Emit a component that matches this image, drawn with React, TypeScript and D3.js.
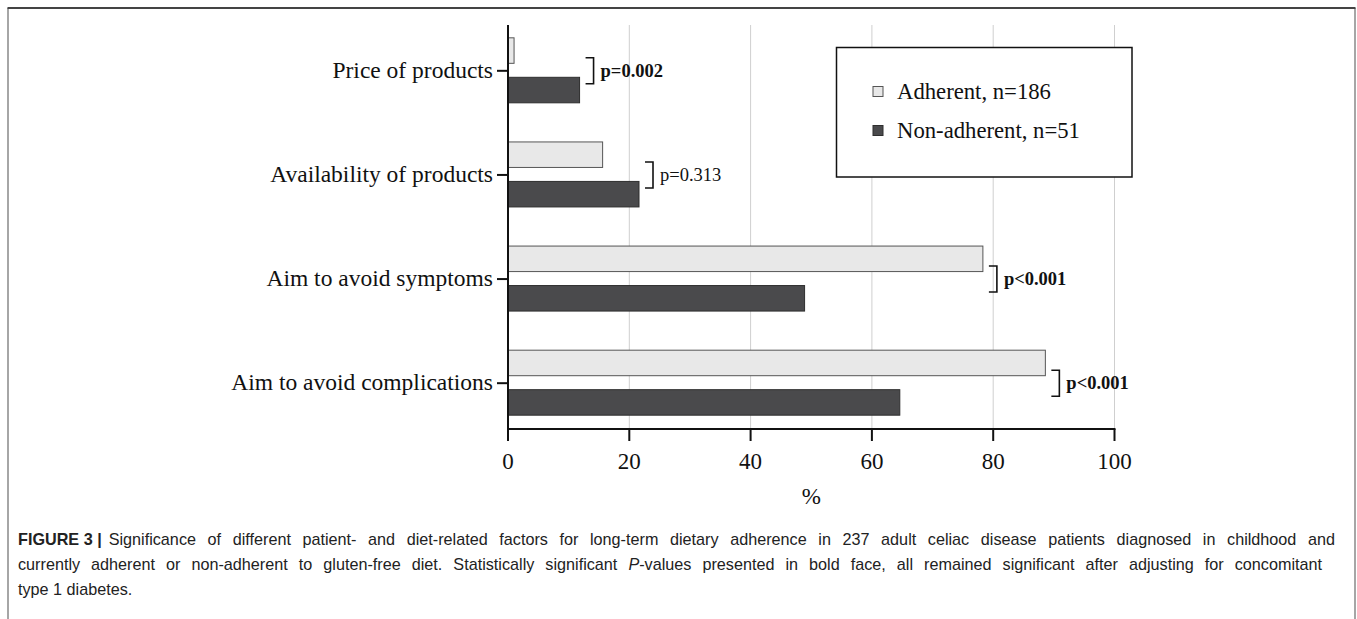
import React, { useEffect, useLayoutEffect, useRef } from "react";
import * as d3 from "d3";

const categories = [
  "Price of products",
  "Availability of products",
  "Aim to avoid symptoms",
  "Aim to avoid complications",
];
const adherent = [1.0, 15.6, 78.3, 88.6];
const nonAdherent = [11.8, 21.6, 48.9, 64.6];
const pValues = ["p=0.002", "p=0.313", "p<0.001", "p<0.001"];
const significant = [true, false, true, true];
const xTicks = [0, 20, 40, 60, 80, 100];
const seriesKeys = ["adherent", "nonAdherent"];
const seriesLabels = ["Adherent, n=186", "Non-adherent, n=51"];
const seriesFill = ["#e8e8e8", "#4a4a4c"];
const seriesStroke = ["#555555", "#2e2e2e"];

const W = 1357;
const H = 619;
const serif = "'Liberation Serif', 'Times New Roman', serif";
const sans = "'Liberation Sans', Arial, sans-serif";

export default function App() {
  const line1 = useRef<SVGTextElement>(null);
  const line1Body = useRef<SVGTSpanElement>(null);
  const line2 = useRef<SVGTextElement>(null);

  useEffect(() => {
    document.body.style.margin = "0";
    document.body.style.overflow = "hidden";
  }, []);

  useLayoutEffect(() => {
    const justify = (el: SVGTextElement | null, target: number, spaceEl?: SVGElement | null) => {
      if (!el) return;
      const sEl = (spaceEl || el) as SVGElement;
      sEl.style.wordSpacing = "0px";
      const w = el.getComputedTextLength();
      const spaces = (sEl.textContent || "").trim().split(/\s+/).length - 1;
      if (spaces > 0) sEl.style.wordSpacing = `${(target - w) / spaces}px`;
    };
    justify(line1.current, 1310, line1Body.current);
    justify(line2.current, 1304);
  }, []);

  const x = d3.scaleLinear().domain([0, 100]).range([508, 1114.5]);
  const y = d3.scalePoint<string>().domain(categories).range([25, 429]).padding(0.44);
  const inner = d3.scaleBand<string>().domain(seriesKeys).range([-33, 32]).paddingInner(0.354);
  const seriesVals = [adherent, nonAdherent];

  return (
    <svg width={W} height={H} style={{ display: "block", background: "#fff" }}>
      {/* outer frame */}
      <line x1={8} x2={8} y1={8} y2={H + 5} stroke="#888" strokeWidth={1.5} />
      <line x1={1355} x2={1355} y1={8} y2={H + 5} stroke="#888" strokeWidth={1.5} />
      <line x1={7.5} x2={1355.5} y1={8} y2={8} stroke="#444" strokeWidth={1.8} />

      {/* gridlines */}
      {xTicks.filter((t) => t > 0).map((t) => (
        <line key={"g" + t} x1={x(t)} x2={x(t)} y1={25} y2={429} stroke="#cfcfcf" strokeWidth={1} />
      ))}

      {/* bars */}
      {categories.map((c, i) => (
        <g key={c}>
          {seriesKeys.map((k, j) => (
            <rect
              key={k}
              x={x(0)}
              y={(y(c) as number) + (inner(k) as number)}
              width={x(seriesVals[j][i]) - x(0)}
              height={inner.bandwidth()}
              fill={seriesFill[j]}
              stroke={seriesStroke[j]}
              strokeWidth={1}
            />
          ))}
        </g>
      ))}

      {/* p-value brackets */}
      {categories.map((c, i) => {
        const cy = y(c) as number;
        const bx0 = x(Math.max(adherent[i], nonAdherent[i])) + 6;
        const bx1 = bx0 + 8;
        return (
          <g key={"p" + c}>
            <path
              d={`M${bx0},${cy - 13}H${bx1}V${cy + 13}H${bx0}`}
              fill="none"
              stroke="#111"
              strokeWidth={1.6}
            />
            <text
              x={bx1 + 7}
              y={cy + 6}
              fontFamily={serif}
              fontSize={18.5}
              fontWeight={significant[i] ? "bold" : "normal"}
              fill="#111"
            >
              {pValues[i]}
            </text>
          </g>
        );
      })}

      {/* axes */}
      <line x1={x(0)} x2={x(0)} y1={25} y2={430} stroke="#111" strokeWidth={2} />
      <line x1={x(0) - 1} x2={x(100) + 1} y1={429} y2={429} stroke="#111" strokeWidth={2} />
      {xTicks.map((t) => (
        <g key={"t" + t}>
          <line x1={x(t)} x2={x(t)} y1={429} y2={441} stroke="#111" strokeWidth={2} />
          <text x={x(t)} y={469} textAnchor="middle" fontFamily={serif} fontSize={23} fill="#111">
            {t}
          </text>
        </g>
      ))}
      <text x={x(50)} y={504} textAnchor="middle" fontFamily={serif} fontSize={23} fill="#111">
        %
      </text>
      {categories.map((c) => (
        <g key={"y" + c}>
          <line x1={497} x2={x(0)} y1={y(c) as number} y2={y(c) as number} stroke="#111" strokeWidth={2} />
          <text x={493} y={(y(c) as number) + 7} textAnchor="end" fontFamily={serif} fontSize={23.5} fill="#111">
            {c}
          </text>
        </g>
      ))}

      {/* legend */}
      <rect x={836.5} y={47.5} width={295.5} height={129.5} fill="#fff" stroke="#111" strokeWidth={1.5} />
      {seriesLabels.map((l, j) => (
        <g key={l}>
          <rect x={873} y={86.5 + j * 39} width={10} height={10} fill={seriesFill[j]} stroke={seriesStroke[j]} strokeWidth={1} />
          <text x={897} y={99 + j * 39} fontFamily={serif} fontSize={22.7} fill="#111">
            {l}
          </text>
        </g>
      ))}

      {/* caption */}
      <g fontFamily={sans} fontSize={16.2} fill="#222">
        <text ref={line1} x={18} y={545}>
          <tspan fontWeight="bold">FIGURE 3 |</tspan>
          <tspan ref={line1Body} dx={7}>
            Significance of different patient- and diet-related factors for long-term dietary adherence in 237 adult celiac disease patients diagnosed in childhood and
          </tspan>
        </text>
        <text ref={line2} x={18} y={570}>
          currently adherent or non-adherent to gluten-free diet. Statistically significant <tspan fontStyle="italic">P</tspan>-values presented in bold face, all remained significant after adjusting for concomitant
        </text>
        <text x={18} y={595}>type 1 diabetes.</text>
      </g>
    </svg>
  );
}
